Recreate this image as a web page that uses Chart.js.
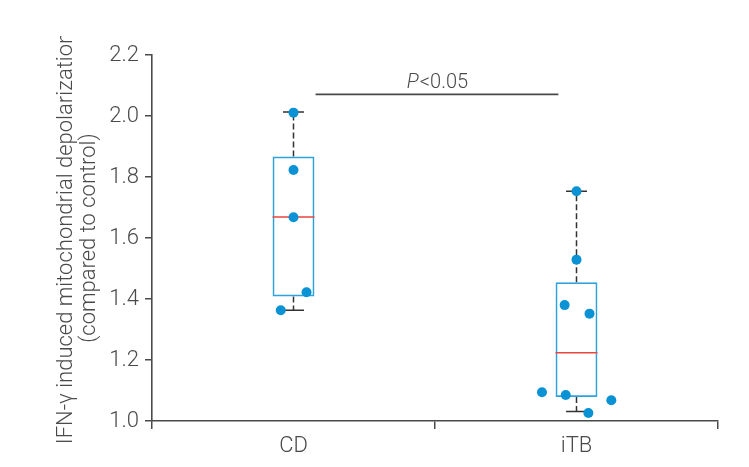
<!DOCTYPE html>
<html>
<head>
<meta charset="utf-8">
<script src="https://cdn.jsdelivr.net/npm/chart.js@4.4.1/dist/chart.umd.min.js"></script>
<style>
  html, body { margin: 0; padding: 0; background: #fff; }
  #wrap { width: 749px; height: 467px; }
</style>
</head>
<body>
<div id="wrap"><canvas id="chart"></canvas></div>
<script>
const groups = ['CD', 'iTB']
const boxLow = [1.408, 1.079]
const boxHigh = [1.867, 1.455]
const medians = [1.669, 1.224]
const whiskerLow = [1.363, 1.031]
const whiskerHigh = [2.013, 1.753]

const cdValues = [2.011, 1.823, 1.668, 1.422, 1.363]
const cdJitter = [0, 0, 0, 0.046, -0.045]
const itbValues = [1.753, 1.529, 1.380, 1.352, 1.094, 1.085, 1.068, 1.026]
const itbJitter = [0, 0, -0.042, 0.046, -0.122, -0.038, 0.123, 0.042]

const sigFrom = 0.078
const sigTo = 0.936
const sigLevel = 2.071
const sigText = ['P', '<0.05']

const yTicks = [1.0, 1.2, 1.4, 1.6, 1.8, 2.0, 2.2]
const yTitle = ['IFN-\u03b3 induced mitochondrial depolarization', '(compared to control)']

const FONT = 'Roboto, "Liberation Sans", sans-serif'
const INK = '#4a4a4a'
const BOX_HALF = 0.074
const CAP_HALF = 0.037

// build the segment lists from the stats above
const medianPts = []
const whiskerPts = []
const capPts = []
groups.forEach((g, i) => {
    medianPts.push({x: i - BOX_HALF, y: medians[i]}, {x: i + BOX_HALF, y: medians[i]}, {x: i, y: null})
    whiskerPts.push({x: i, y: boxHigh[i]}, {x: i, y: whiskerHigh[i]}, {x: i, y: null})
    whiskerPts.push({x: i, y: boxLow[i]}, {x: i, y: whiskerLow[i]}, {x: i, y: null})
    capPts.push({x: i - CAP_HALF, y: whiskerHigh[i]}, {x: i + CAP_HALF, y: whiskerHigh[i]}, {x: i, y: null})
    capPts.push({x: i - CAP_HALF, y: whiskerLow[i]}, {x: i + CAP_HALF, y: whiskerLow[i]}, {x: i, y: null})
})
const dots = cdValues.map((v, k) => ({x: 0 + cdJitter[k], y: v}))
    .concat(itbValues.map((v, k) => ({x: 1 + itbJitter[k], y: v})))

const clipAndLabels = {
    id: 'clipAndLabels',
    beforeDraw(chart) {
        chart.ctx.save()
        chart.ctx.beginPath()
        chart.ctx.rect(0, 36, chart.width, chart.height - 36)
        chart.ctx.clip()
    },
    afterDraw(chart) {
        const ctx = chart.ctx
        const area = chart.chartArea
        const cy = (area.top + area.bottom) / 2
        // y title, centred on the plot and cut off at the top like the original
        const lineX = [72, 95]
        yTitle.forEach((line, k) => {
            ctx.save()
            ctx.fillStyle = INK
            ctx.font = '300 22px ' + FONT
            ctx.textAlign = 'center'
            ctx.textBaseline = 'alphabetic'
            ctx.translate(lineX[k], cy)
            ctx.rotate(-Math.PI / 2)
            ctx.fillText(line, 0, 0)
            ctx.restore()
        })

        // significance text
        const xs = chart.scales.xl
        const ys = chart.scales.y
        const mid = (xs.getPixelForValue(sigFrom) + xs.getPixelForValue(sigTo)) / 2
        const base = ys.getPixelForValue(sigLevel) - 6
        ctx.save()
        ctx.fillStyle = INK
        ctx.textBaseline = 'alphabetic'
        ctx.font = 'italic 300 20px ' + FONT
        const w1 = ctx.measureText(sigText[0]).width
        ctx.font = '300 20px ' + FONT
        const w2 = ctx.measureText(sigText[1]).width
        const x0 = mid - (w1 + w2) / 2
        ctx.font = 'italic 300 20px ' + FONT
        ctx.fillText(sigText[0], x0, base)
        ctx.font = '300 20px ' + FONT
        ctx.fillText(sigText[1], x0 + w1 + 1, base)
        ctx.restore()

        ctx.restore()
    }
}

new Chart(document.getElementById('chart'), {
    type: 'bar',
    data: {
        labels: groups,
        datasets: [
            {
                type: 'line',
                xAxisID: 'xl',
                data: dots,
                showLine: false,
                pointRadius: 5,
                pointBackgroundColor: '#0a92d5',
                pointBorderWidth: 0,
                order: 0
            },
            {
                type: 'line',
                xAxisID: 'xl',
                data: medianPts,
                borderColor: '#e8453c',
                borderWidth: 1.6,
                pointRadius: 0,
                spanGaps: false,
                order: 1
            },
            {
                type: 'bar',
                xAxisID: 'x',
                data: groups.map((g, i) => [boxLow[i], boxHigh[i]]),
                backgroundColor: 'rgba(255,255,255,0)',
                borderColor: '#2ea2df',
                borderWidth: 1.7,
                borderSkipped: false,
                grouped: false,
                categoryPercentage: 1,
                barPercentage: BOX_HALF * 2,
                order: 2
            },
            {
                type: 'line',
                xAxisID: 'xl',
                data: whiskerPts,
                borderColor: '#333',
                borderWidth: 1.5,
                borderDash: [6, 3],
                pointRadius: 0,
                spanGaps: false,
                order: 3
            },
            {
                type: 'line',
                xAxisID: 'xl',
                data: capPts,
                borderColor: '#333',
                borderWidth: 1.5,
                pointRadius: 0,
                spanGaps: false,
                order: 3
            },
            {
                type: 'line',
                xAxisID: 'xl',
                data: [{x: sigFrom, y: sigLevel}, {x: sigTo, y: sigLevel}],
                borderColor: INK,
                borderWidth: 1.6,
                pointRadius: 0,
                order: 4
            }
        ]
    },
    options: {
        responsive: true,
        maintainAspectRatio: false,
        animation: false,
        events: [],
        layout: { padding: { top: 55, right: 31, left: 0, bottom: 0 } },
        plugins: {
            legend: { display: false },
            tooltip: { enabled: false }
        },
        scales: {
            x: {
                type: 'category',
                offset: true,
                grid: { offset: true, drawOnChartArea: false, drawTicks: true, tickLength: 8, color: INK, lineWidth: 1.5 },
                border: { display: true, color: INK, width: 1.6 },
                ticks: { color: INK, font: { family: FONT, size: 22, weight: 300 }, padding: 4 },
                afterFit(scale) { scale.height = 46 }
            },
            xl: {
                type: 'linear',
                display: false,
                offset: false,
                grid: { offset: false },
                min: -0.5,
                max: 1.5
            },
            y: {
                min: 1.0,
                max: 2.2,
                afterBuildTicks(scale) { scale.ticks = yTicks.map(v => ({value: v})) },
                grid: { drawOnChartArea: false, drawTicks: true, tickLength: 7, color: INK, lineWidth: 1.5 },
                border: { display: true, color: INK, width: 1.6 },
                ticks: {
                    color: INK,
                    font: { family: FONT, size: 22, weight: 300 },
                    padding: 6,
                    callback: v => Number(v).toFixed(1)
                },
                afterFit(scale) { scale.width = 152 }
            }
        }
    },
    plugins: [clipAndLabels]
})
</script>
</body>
</html>
